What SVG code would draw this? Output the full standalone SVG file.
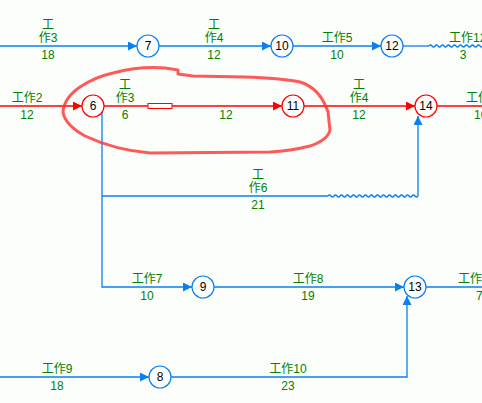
<svg xmlns="http://www.w3.org/2000/svg" width="482" height="403" viewBox="0 0 482 403">
<defs>
<style>
.b{stroke:#0a7ff0;stroke-width:1.3;fill:none}
.r{stroke:#ff0000;stroke-width:1.3;fill:none}
.nb{stroke:#0a7ff0;stroke-width:1.2;fill:#ffffff}
.nr{stroke:#ff0000;stroke-width:1.2;fill:#ffffff}
.t{font-family:"Liberation Sans","Noto Sans CJK SC",sans-serif;font-size:12px;fill:#008000;text-anchor:middle}
.n{font-family:"Liberation Sans",sans-serif;font-size:12px;fill:#000000;text-anchor:middle}
</style>
<marker id="ab" markerUnits="userSpaceOnUse" markerWidth="9" markerHeight="9" refX="9" refY="4.5" orient="auto"><path d="M0,0L9,4.5L0,9z" fill="#0a7ff0"/></marker>
<marker id="ar" markerUnits="userSpaceOnUse" markerWidth="9" markerHeight="9" refX="9" refY="4.5" orient="auto"><path d="M0,0L9,4.5L0,9z" fill="#ff0000"/></marker>
</defs>
<rect width="482" height="403" fill="#fcfefc"/>
<g id="connectors">
<line class="b" x1="0" y1="46" x2="137" y2="46" marker-end="url(#ab)"/>
<line class="b" x1="159" y1="46" x2="271" y2="46" marker-end="url(#ab)"/>
<line class="b" x1="293" y1="46" x2="381" y2="46" marker-end="url(#ab)"/>
<line class="b" x1="403" y1="46" x2="429" y2="46"/>
<path class="b" d="M429,46q1.5,-2 3,0t3,0t3,0t3,0t3,0t3,0t3,0t3,0t3,0t3,0t3,0t3,0t3,0t3,0t3,0t3,0t3,0t3,0"/>
<line class="r" x1="0" y1="106" x2="82" y2="106" marker-end="url(#ar)"/>
<line class="r" x1="104" y1="106" x2="282" y2="106" marker-end="url(#ar)"/>
<rect x="148" y="103.5" width="24" height="5" fill="#ffffff" stroke="#ff0000" stroke-width="1"/>
<line class="r" x1="304" y1="106" x2="415" y2="106" marker-end="url(#ar)"/>
<line class="r" x1="437" y1="106" x2="482" y2="106"/>
<polyline class="b" points="102,112 102,287 192,287" marker-end="url(#ab)"/>
<line class="b" x1="102" y1="196" x2="328" y2="196"/>
<path class="b" d="M328,196q1.5,-2 3,0t3,0t3,0t3,0t3,0t3,0t3,0t3,0t3,0t3,0t3,0t3,0t3,0t3,0t3,0t3,0t3,0t3,0t3,0t3,0t3,0t3,0t3,0t3,0t3,0t3,0t3,0t3,0t3,0t3,0"/>
<line class="b" x1="418" y1="196" x2="418" y2="116" marker-end="url(#ab)"/>
<line class="b" x1="214" y1="287" x2="404" y2="287" marker-end="url(#ab)"/>
<line class="b" x1="426" y1="287" x2="482" y2="287"/>
<line class="b" x1="0" y1="377" x2="149" y2="377" marker-end="url(#ab)"/>
<polyline class="b" points="171,377 407,377 407,296" marker-end="url(#ab)"/>
</g>
<g id="highlight">
<path d="M113,73 Q140,66 165,68 L178,70 L178,74 L193,76 L245,77 Q280,78 300,82 Q320,88 328,112 L330,130 Q328,140 310,146 Q290,151 270,152 L150,153 Q115,150 85,136 Q65,125 63,112 Q64,98 80,87 Q95,77 113,73 Z" fill="none" stroke="#ff3030" stroke-opacity="0.8" stroke-width="3" stroke-linejoin="round"/>
</g>
<g id="labels">
<text class="t" x="48" y="29">工</text><text class="t" x="48" y="42">作3</text><text class="t" x="48" y="59">18</text>
<text class="t" x="214" y="29">工</text><text class="t" x="214" y="42">作4</text><text class="t" x="214" y="59">12</text>
<text class="t" x="337" y="42">工作5</text><text class="t" x="337" y="59">10</text>
<text class="t" x="449" y="42" text-anchor="start" style="text-anchor:start">工作12</text><text class="t" x="463" y="59">3</text>
<text class="t" x="27" y="102">工作2</text><text class="t" x="27" y="119">12</text>
<text class="t" x="125" y="89">工</text><text class="t" x="125" y="102">作3</text><text class="t" x="125" y="119">6</text>
<text class="t" x="226" y="119">12</text>
<text class="t" x="359" y="89">工</text><text class="t" x="359" y="102">作4</text><text class="t" x="359" y="119">12</text>
<text class="t" x="466" y="102" style="text-anchor:start">工作</text><text class="t" x="474" y="119" style="text-anchor:start">10</text>
<text class="t" x="258" y="179">工</text><text class="t" x="258" y="192">作6</text><text class="t" x="258" y="209">21</text>
<text class="t" x="147" y="283">工作7</text><text class="t" x="147" y="300">10</text>
<text class="t" x="308" y="283">工作8</text><text class="t" x="308" y="300">19</text>
<text class="t" x="458" y="283" style="text-anchor:start">工作</text><text class="t" x="476" y="300" style="text-anchor:start">7</text>
<text class="t" x="57" y="373">工作9</text><text class="t" x="57" y="390">18</text>
<text class="t" x="288" y="373">工作10</text><text class="t" x="288" y="390">23</text>
</g>
<g id="node-7"><circle class="nb" cx="148" cy="46" r="11"/><text class="n" x="148" y="50">7</text></g>
<g id="node-10"><circle class="nb" cx="282" cy="46" r="11"/><text class="n" x="282" y="50">10</text></g>
<g id="node-12"><circle class="nb" cx="392" cy="46" r="11"/><text class="n" x="392" y="50">12</text></g>
<g id="node-6"><circle class="nr" cx="93" cy="106" r="11"/><text class="n" x="93" y="110">6</text></g>
<g id="node-11"><circle class="nr" cx="293" cy="106" r="11"/><text class="n" x="293" y="110">11</text></g>
<g id="node-14"><circle class="nr" cx="426" cy="106" r="11"/><text class="n" x="426" y="110">14</text></g>
<g id="node-9"><circle class="nb" cx="203" cy="287" r="11"/><text class="n" x="203" y="291">9</text></g>
<g id="node-13"><circle class="nb" cx="415" cy="287" r="11"/><text class="n" x="415" y="291">13</text></g>
<g id="node-8"><circle class="nb" cx="160" cy="377" r="11"/><text class="n" x="160" y="381">8</text></g>
</svg>
